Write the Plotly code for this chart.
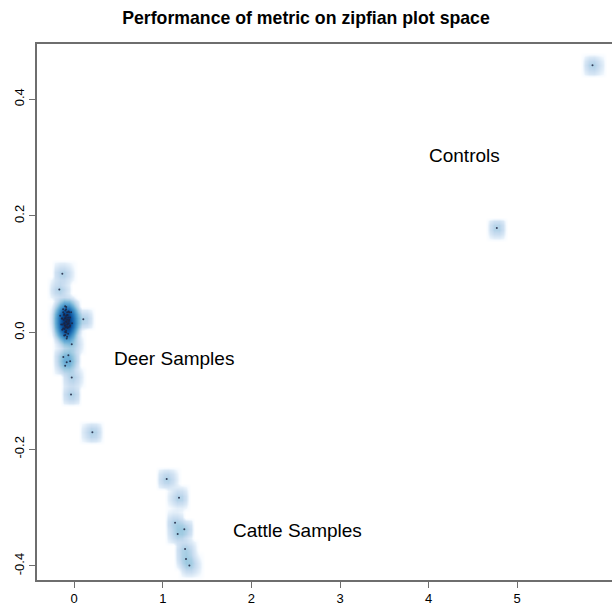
import numpy as np
import plotly.graph_objects as go

# ---- data -------------------------------------------------------------
deer_x = [-0.091, -0.080, -0.102, -0.069, -0.113, -0.091, -0.057, -0.124, -0.080, -0.102,
          -0.069, -0.135, -0.046, -0.091, -0.113, -0.080, -0.102, -0.057, -0.147, -0.069,
          -0.091, -0.124, -0.046, -0.113, -0.080, -0.024, -0.158, -0.035, -0.102, -0.135,
          -0.063, -0.096, -0.074, -0.085,
          -0.090, -0.070, -0.100, -0.120, -0.080, -0.110, -0.060, -0.130, -0.090, -0.100,
          -0.075, -0.115, -0.085, -0.105, -0.095, -0.065, -0.125, -0.140, -0.050, -0.085,
          0.103, -0.028, -0.134, -0.168,
          -0.123, -0.066, -0.085, -0.102, -0.046, -0.028, -0.036, 0.205]
deer_y = [0.019, 0.014, 0.024, 0.009, 0.016, 0.029, 0.022, 0.007, 0.035, 0.001,
          0.026, 0.024, 0.012, 0.003, 0.032, 0.022, 0.012, 0.035, 0.014, -0.002,
          0.040, 0.035, 0.026, -0.005, -0.007, 0.016, 0.029, 0.035, 0.045, 0.005,
          0.016, 0.009, 0.030, 0.010,
          0.000, 0.015, 0.038, 0.022, 0.030, 0.006, 0.020, 0.014, 0.044, -0.004,
          0.008, 0.030, 0.018, 0.012, 0.026, 0.036, 0.040, 0.024, 0.010, -0.010,
          0.023, -0.020, 0.101, 0.074,
          -0.042, -0.039, -0.051, -0.057, -0.049, -0.077, -0.106, -0.171]

cattle_x = [1.044, 1.183, 1.138, 1.243, 1.168, 1.251, 1.262, 1.300]
cattle_y = [-0.251, -0.283, -0.326, -0.337, -0.345, -0.371, -0.388, -0.399]

control_x = [5.85, 4.77]
control_y = [0.458, 0.179]

group_labels = ["Controls", "Deer Samples", "Cattle Samples"]
label_x = [4.41, 1.13, 2.52]
label_y = [0.304, -0.044, -0.339]

x_ticks = [0, 1, 2, 3, 4, 5]
y_ticks = [-0.4, -0.2, 0.0, 0.2, 0.4]
y_ticktext = ["-0.4", "-0.2", "0.0", "0.2", "0.4"]

blues9 = ["#F7FBFF", "#DEEBF7", "#C6DBEF", "#9ECAE1", "#6BAED6",
          "#4292C6", "#2171B5", "#08519C", "#08306B"]

# ---- layout geometry ----------------------------------------------------
W, H = 612, 606
ML, MR, MT, MB = 37, 0, 44, 21
x_range = [-0.42, 6.07]
y_range = [-0.424, 0.4945]
px_per_x = (W - ML - MR) / (x_range[1] - x_range[0])
px_per_y = (H - MT - MB) / (y_range[1] - y_range[0])

# ---- smoothed density (smoothScatter style, 128-bin grid) ---------------
all_x = np.array(deer_x + cattle_x + control_x)
all_y = np.array(deer_y + cattle_y + control_y)

gx = np.linspace(x_range[0], x_range[1], 128)
gy = np.linspace(y_range[0], y_range[1], 128)

sig_px = 5.0      # kernel sd in pixels
cut_px = 11.0     # kernel truncation half-width in pixels
sx, sy = sig_px / px_per_x, sig_px / px_per_y
cx, cy = cut_px / px_per_x, cut_px / px_per_y

dx = gx[None, :] - all_x[:, None]
dy = gy[None, :] - all_y[:, None]
kx = np.exp(-0.5 * (dx / sx) ** 2) * (np.abs(dx) <= cx)
ky = np.exp(-0.5 * (dy / sy) ** 2) * (np.abs(dy) <= cy)
dens = ky.T @ kx                       # rows = y, cols = x
dens = dens ** 0.3
dens = dens / dens.max()

cols = ["#FFFFFF"] + blues9
colorscale = [[i / (len(cols) - 1), c] for i, c in enumerate(cols)]

fig = go.Figure()
fig.add_trace(go.Heatmap(
    x=gx, y=gy, z=dens, zmin=0, zmax=1, colorscale=colorscale,
    showscale=False, zsmooth="best", hoverinfo="skip"))

fig.add_trace(go.Scatter(
    x=all_x, y=all_y, mode="markers",
    marker=dict(size=2, color="#1c2340", opacity=0.85), hoverinfo="skip"))

for t, x, y in zip(group_labels, label_x, label_y):
    fig.add_annotation(x=x, y=y, text=t, showarrow=False,
                       font=dict(family="Liberation Sans, Arial", size=19, color="black"),
                       xanchor="center", yanchor="middle")

axis_common = dict(showgrid=False, zeroline=False, showline=True,
                   linecolor="#6e6e6e", linewidth=1.5, ticks="outside", ticklen=6,
                   tickcolor="#6e6e6e", tickwidth=1.2,
                   tickfont=dict(family="Liberation Sans, Arial", size=13, color="black"))

fig.update_layout(
    width=W, height=H,
    margin=dict(l=ML, r=MR, t=MT, b=MB),
    paper_bgcolor="white", plot_bgcolor="white",
    showlegend=False,
    title=dict(text="<b>Performance of metric on zipfian plot space</b>",
               x=0.5, xref="container", y=1 - 18 / H, yref="container",
               xanchor="center", yanchor="middle",
               font=dict(family="Liberation Sans, Arial", size=17.7, color="black")),
    xaxis=dict(range=x_range, tickvals=x_ticks, mirror=True, **axis_common),
    yaxis=dict(range=y_range, tickvals=y_ticks, ticktext=y_ticktext,
               tickangle=-90, mirror=False, **axis_common),
)

fig.write_html("out.html")
